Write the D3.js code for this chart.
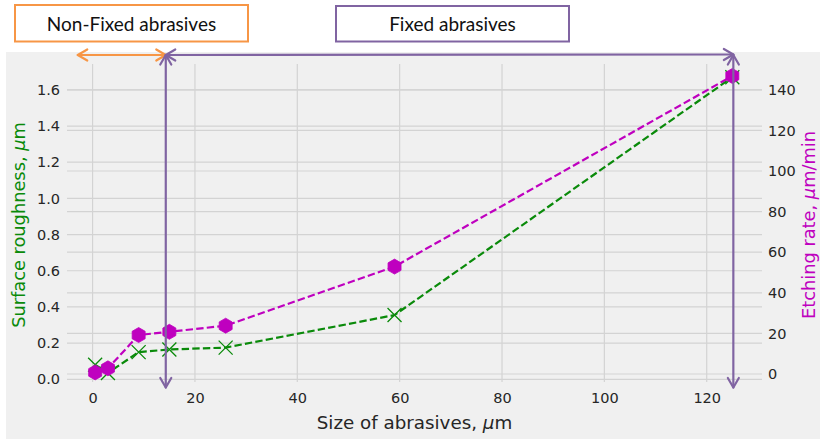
<!DOCTYPE html>
<html>
<head>
<meta charset="utf-8">
<script src="https://cdn.jsdelivr.net/npm/d3@7"></script>
<style>
  body { margin: 0; background: #ffffff; }
  svg { display: block; }
</style>
</head>
<body>
<svg id="chart" width="820" height="439"></svg>
<script>
// Abrasive size (µm) and the two measured responses
const sizes      = [0.5, 3, 9, 15, 26, 59, 125];
const roughness  = [0.08, 0.035, 0.15, 0.165, 0.175, 0.355, 1.67];   // µm
const etchRate   = [0.8, 2.8, 19.2, 20.8, 23.8, 52.9, 146.8];        // µm/min

const xTicks     = [0, 20, 40, 60, 80, 100, 120];
const roughTicks = [0.0, 0.2, 0.4, 0.6, 0.8, 1.0, 1.2, 1.4, 1.6];
const rateTicks  = [0, 20, 40, 60, 80, 100, 120, 140];

// Zone bracket edges along the size axis: non-fixed starts, boundary, fixed ends
const zoneEdges  = [-2.9, 14.3, 125.2];
const zoneLabels = ["Non-Fixed abrasives", "Fixed abrasives"];

const GREEN = "#0a8a0a", MAGENTA = "#bf00bf";
const PURPLE = "#8064a2", ORANGE = "#f79646";
const TEXT = "#262626", GRID = "#d3d3d3", BG = "#f0f0f0";

const svg = d3.select("#chart");
const plot = { left: 67, right: 762, top: 64, bottom: 382 };

const x  = d3.scaleLinear().domain([-5, 130.8]).range([plot.left, plot.right]);
const yL = d3.scaleLinear().domain([-0.015, 1.743]).range([plot.bottom, plot.top]);
const yR = d3.scaleLinear().domain([-3.93, 152.7]).range([plot.bottom, plot.top]);

// figure background
svg.append("rect").attr("x", 6).attr("y", 52).attr("width", 814).attr("height", 387).attr("fill", BG);

// grids (both y axes draw their own horizontal lines)
const grid = svg.append("g").attr("stroke", GRID).attr("stroke-width", 1.2);
grid.selectAll(".gx").data(xTicks).join("line")
  .attr("x1", d => x(d)).attr("x2", d => x(d))
  .attr("y1", plot.top).attr("y2", plot.bottom);
grid.selectAll(".gl").data(roughTicks).join("line")
  .attr("x1", plot.left).attr("x2", plot.right)
  .attr("y1", d => yL(d)).attr("y2", d => yL(d));
grid.selectAll(".gr").data(rateTicks).join("line")
  .attr("x1", plot.left).attr("x2", plot.right)
  .attr("y1", d => yR(d)).attr("y2", d => yR(d));

// axes built with d3 axis generators, tick lines and domains hidden
function styleAxis(g) {
  g.select(".domain").remove();
  g.selectAll(".tick line").remove();
  g.selectAll("text").attr("fill", TEXT)
    .style("font-family", "DejaVu Sans").style("font-size", "14.5px");
}
svg.append("g").attr("transform", `translate(0,${plot.bottom})`)
  .call(d3.axisBottom(x).tickValues(xTicks).tickFormat(d3.format("d")).tickSize(0).tickPadding(11))
  .call(styleAxis);
svg.append("g").attr("transform", `translate(${plot.left},0)`)
  .call(d3.axisLeft(yL).tickValues(roughTicks).tickFormat(d3.format(".1f")).tickSize(0).tickPadding(7))
  .call(styleAxis);
svg.append("g").attr("transform", `translate(${plot.right},0)`)
  .call(d3.axisRight(yR).tickValues(rateTicks).tickFormat(d3.format("d")).tickSize(0).tickPadding(6))
  .call(styleAxis);

// axis titles
function label(g, parts) {
  parts.forEach(([t, italic]) => {
    g.append("tspan").text(t).attr("font-style", italic ? "italic" : null);
  });
}
const xl = svg.append("text").attr("x", (plot.left + plot.right) / 2).attr("y", 429)
  .attr("text-anchor", "middle").attr("fill", TEXT)
  .style("font-family", "DejaVu Sans").style("font-size", "18.3px");
label(xl, [["Size of abrasives, ", false], ["\u03bc", true], ["m", false]]);

const ylL = svg.append("text")
  .attr("transform", `translate(25,${(plot.top + plot.bottom) / 2 + 2}) rotate(-90)`)
  .attr("text-anchor", "middle").attr("fill", GREEN)
  .style("font-family", "DejaVu Sans").style("font-size", "17.8px");
label(ylL, [["Surface roughness, ", false], ["\u03bc", true], ["m", false]]);

const ylR = svg.append("text")
  .attr("transform", `translate(814.5,${(plot.top + plot.bottom) / 2 + 2}) rotate(-90)`)
  .attr("text-anchor", "middle").attr("fill", MAGENTA)
  .style("font-family", "DejaVu Sans").style("font-size", "17.8px");
label(ylR, [["Etching rate, ", false], ["\u03bc", true], ["m/min", false]]);

// data series
const rough = sizes.map((s, i) => [s, roughness[i]]);
const rate  = sizes.map((s, i) => [s, etchRate[i]]);

svg.append("path").datum(rough)
  .attr("d", d3.line().x(d => x(d[0])).y(d => yL(d[1])))
  .attr("fill", "none").attr("stroke", GREEN).attr("stroke-width", 2.2)
  .attr("stroke-dasharray", "7.4,3.2");
svg.append("g").selectAll("path").data(rough).join("path")
  .attr("transform", d => `translate(${x(d[0])},${yL(d[1])})`)
  .attr("d", "M-7,-7L7,7M-7,7L7,-7")
  .attr("stroke", GREEN).attr("stroke-width", 1.3).attr("fill", "none");

svg.append("path").datum(rate)
  .attr("d", d3.line().x(d => x(d[0])).y(d => yR(d[1])))
  .attr("fill", "none").attr("stroke", MAGENTA).attr("stroke-width", 2.2)
  .attr("stroke-dasharray", "7.4,3.2");
const hexR = 7.5;
const hex = d3.range(6).map(k => {
  const a = -Math.PI / 2 + k * Math.PI / 3;
  return [hexR * Math.cos(a), hexR * Math.sin(a)];
});
svg.append("g").selectAll("path").data(rate).join("path")
  .attr("transform", d => `translate(${x(d[0])},${yR(d[1])})`)
  .attr("d", "M" + hex.map(p => p.join(",")).join("L") + "Z")
  .attr("fill", MAGENTA).attr("stroke", MAGENTA).attr("stroke-width", 0.8);

// zone brackets with open arrowheads
const annot = svg.append("g").attr("fill", "none").attr("stroke-width", 2.2)
  .attr("stroke-linecap", "round").attr("stroke-linejoin", "round");
function arrow(x1, y1, x2, y2, color) {
  const g = annot.append("g").attr("stroke", color);
  g.append("line").attr("x1", x1).attr("y1", y1).attr("x2", x2).attr("y2", y2);
  const ang = Math.atan2(y2 - y1, x2 - x1), L = 9.5, W = 5.5;
  [[x2, y2, ang], [x1, y1, ang + Math.PI]].forEach(([tx, ty, a]) => {
    const bx = tx - L * Math.cos(a), by = ty - L * Math.sin(a);
    const nx = -Math.sin(a) * W, ny = Math.cos(a) * W;
    g.append("path").attr("d", `M${bx + nx},${by + ny}L${tx},${ty}L${bx - nx},${by - ny}`);
  });
}
const topY = 55, botY = 387.5;
arrow(x(zoneEdges[0]), topY, x(zoneEdges[1]), topY, ORANGE);
arrow(x(zoneEdges[1]), topY, x(zoneEdges[2]), topY - 0.5, PURPLE);
arrow(x(zoneEdges[1]), topY, x(zoneEdges[1]), botY, PURPLE);
arrow(x(zoneEdges[2]), topY, x(zoneEdges[2]), botY, PURPLE);

// zone title boxes
const boxes = [
  { x: 15, y: 5, w: 233, h: 36.5, color: ORANGE, text: zoneLabels[0] },
  { x: 336, y: 6, w: 233, h: 35.5, color: PURPLE, text: zoneLabels[1] }
];
const bg = svg.append("g").selectAll("g").data(boxes).join("g");
bg.append("rect").attr("x", d => d.x).attr("y", d => d.y).attr("width", d => d.w).attr("height", d => d.h)
  .attr("fill", "#ffffff").attr("stroke", d => d.color).attr("stroke-width", 2);
bg.append("text").attr("x", d => d.x + d.w / 2).attr("y", 30.5)
  .attr("text-anchor", "middle").attr("fill", "#111")
  .style("font-family", "Lato").style("font-size", "19px")
  .text(d => d.text);
</script>
</body>
</html>
